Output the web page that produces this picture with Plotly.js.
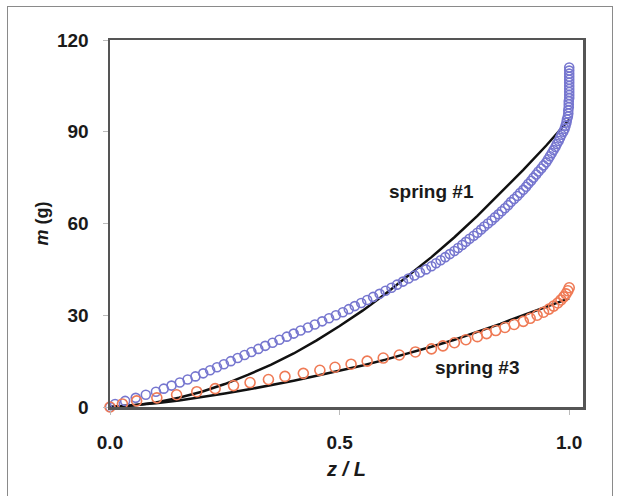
<!DOCTYPE html>
<html>
<head>
<meta charset="utf-8">
<script src="https://cdn.plot.ly/plotly-3.0.1.min.js"></script>
<style>
  html, body { margin: 0; padding: 0; background: #fff; }
  #wrap { position: relative; width: 623px; height: 496px; overflow: hidden; }
  #chart { position: absolute; left: 0; top: 0; width: 623px; height: 496px; }
  #frame { position: absolute; left: 7px; top: 6px; width: 606px; height: 500px;
           border: 1.5px solid #8a8a8a; pointer-events: none; box-sizing: border-box; }
</style>
</head>
<body>
<div id="wrap">
  <div id="chart"></div>
  <div id="frame"></div>
</div>
<script>
// ---- data ----
// spring #1 measured (open blue circles)
const spring1X = [0, 0.011, 0.033, 0.056, 0.078, 0.1, 0.117, 0.134, 0.152, 0.169, 0.186,
  0.203, 0.218, 0.233, 0.248, 0.263, 0.278, 0.293, 0.308, 0.323, 0.338,
  0.354, 0.369, 0.385, 0.4, 0.415, 0.431, 0.446, 0.462, 0.477, 0.492,
  0.507, 0.52, 0.533, 0.547, 0.56, 0.573, 0.587, 0.6, 0.613, 0.625,
  0.638, 0.65, 0.663, 0.675, 0.688, 0.7, 0.71, 0.72, 0.73, 0.74,
  0.75, 0.758, 0.767, 0.775, 0.783, 0.792, 0.8, 0.808, 0.815, 0.823,
  0.831, 0.838, 0.846, 0.853, 0.86, 0.867, 0.873, 0.88, 0.887, 0.893,
  0.9, 0.906, 0.911, 0.917, 0.922, 0.928, 0.933, 0.939, 0.944, 0.95,
  0.954, 0.958, 0.962, 0.966, 0.97, 0.973, 0.977, 0.98, 0.983, 0.987,
  0.99, 0.992, 0.994, 0.995, 0.997, 0.998, 0.998, 0.999, 0.999, 0.999,
  1.0, 1.0, 1.0, 1.0, 1.0, 1.0, 1.0, 1.0, 1.0, 1.0, 1.0];
const spring1M = [0, 1, 2, 3, 4, 5, 6, 7, 8, 9, 10,
  11, 12, 13, 14, 15, 16, 17, 18, 19, 20,
  21, 22, 23, 24, 25, 26, 27, 28, 29, 30,
  31, 32, 33, 34, 35, 36, 37, 38, 39, 40,
  41, 42, 43, 44, 45, 46, 47, 48, 49, 50,
  51, 52, 53, 54, 55, 56, 57, 58, 59, 60,
  61, 62, 63, 64, 65, 66, 67, 68, 69, 70,
  71, 72, 73, 74, 75, 76, 77, 78, 79, 80,
  81, 82, 83, 84, 85, 86, 87, 88, 89, 90,
  91, 92, 93, 94, 95, 96, 97, 98, 99, 100,
  101, 102, 103, 104, 105, 106, 107, 108, 109, 110, 111];

// spring #3 measured (open orange circles)
const spring3X = [0, 0.027, 0.058, 0.102, 0.145, 0.189, 0.229, 0.269, 0.305, 0.345,
  0.381, 0.421, 0.457, 0.49, 0.525, 0.56, 0.595, 0.63, 0.665, 0.7,
  0.725, 0.75, 0.775, 0.8, 0.82, 0.84, 0.86, 0.88, 0.9, 0.915,
  0.93, 0.944, 0.956, 0.966, 0.975, 0.982, 0.988, 0.993, 0.997, 1.0];
const spring3M = [0, 1, 2, 3, 4, 5, 6, 7, 8, 9,
  10, 11, 12, 13, 14, 15, 16, 17, 18, 19,
  20, 21, 22, 23, 24, 25, 26, 27, 28, 29,
  30, 31, 32, 33, 34, 35, 36, 37, 38, 39];

// model curves (black lines)
const modelX = [0, 0.05, 0.1, 0.15, 0.2, 0.25, 0.3, 0.35, 0.4, 0.45, 0.5,
  0.55, 0.6, 0.65, 0.7, 0.75, 0.8, 0.85, 0.9, 0.95, 1.0];
const model1M = [0, 0.5, 1.5, 3, 5, 7.5, 10.5, 13.8, 17.5, 21.8, 26.5,
  31.5, 37, 43, 49, 55.5, 62.5, 70, 77.5, 85.5, 94];
const model3M = [0, 0.5, 1.2, 2.1, 3.2, 4.4, 5.7, 7.1, 8.6, 10.2, 11.8,
  13.6, 15.5, 17.5, 19.7, 22, 24.5, 27.2, 30, 32.8, 35.5];

const xTicks = [0, 0.5, 1.0];
const xTickText = ['0.0', '0.5', '1.0'];
const yTicks = [0, 30, 60, 90, 120];

const labels = [
  {text: 'spring #1', x: 0.70, y: 70.6},
  {text: 'spring #3', x: 0.80, y: 12.8}
];

// ---- drawing ----
const BLUE = '#7676cf';
const ORANGE = '#ef7a55';
const FONT = 'Liberation Sans, Arial, Helvetica, sans-serif';

const traces = [
  {x: modelX, y: model1M, mode: 'lines', line: {color: '#111', width: 2.5}, name: 'model 1', cliponaxis: false},
  {x: modelX, y: model3M, mode: 'lines', line: {color: '#111', width: 2.5}, name: 'model 3', cliponaxis: false},
  {x: spring1X, y: spring1M, mode: 'markers', name: 'spring #1', cliponaxis: false,
   marker: {symbol: 'circle-open', size: 9, color: BLUE, line: {width: 1.6, color: BLUE}}},
  {x: spring3X, y: spring3M, mode: 'markers', name: 'spring #3', cliponaxis: false,
   marker: {symbol: 'circle-open', size: 10, color: ORANGE, line: {width: 1.6, color: ORANGE}}}
];

const layout = {
  width: 623, height: 496,
  margin: {l: 110, r: 40, t: 40, b: 89, pad: 0},
  paper_bgcolor: '#ffffff', plot_bgcolor: '#ffffff',
  showlegend: false,
  font: {family: FONT, color: '#1a1a1a'},
  xaxis: {
    range: [0, 1.03], tickvals: xTicks, ticktext: xTickText,
    showgrid: false, zeroline: false,
    showline: true, mirror: true, linecolor: '#555', linewidth: 2.5,
    ticks: 'outside', ticklen: 5, tickcolor: '#bbb', tickwidth: 1,
    ticklabelstandoff: 12,
    tickfont: {family: FONT, size: 19, weight: 'bold', color: '#1a1a1a'},
    title: {text: '<i>z / L</i>', standoff: 10,
            font: {family: FONT, size: 20, weight: 'bold', color: '#1a1a1a'}}
  },
  yaxis: {
    range: [0, 120], tickvals: yTicks,
    showgrid: false, zeroline: false,
    showline: true, mirror: true, linecolor: '#555', linewidth: 2.5,
    ticks: 'outside', ticklen: 5, tickcolor: '#bbb', tickwidth: 1,
    ticklabelstandoff: 10,
    tickfont: {family: FONT, size: 19, weight: 'bold', color: '#1a1a1a'},
    title: {text: '<i>m</i> (g)', standoff: 4,
            font: {family: FONT, size: 18, weight: 'bold', color: '#1a1a1a'}}
  },
  annotations: labels.map(l => ({
    text: l.text, x: l.x, y: l.y, xref: 'x', yref: 'y', showarrow: false,
    font: {family: FONT, size: 19, weight: 'bold', color: '#1a1a1a'}
  }))
};

Plotly.newPlot('chart', traces, layout, {displayModeBar: false, staticPlot: true});
</script>
</body>
</html>
